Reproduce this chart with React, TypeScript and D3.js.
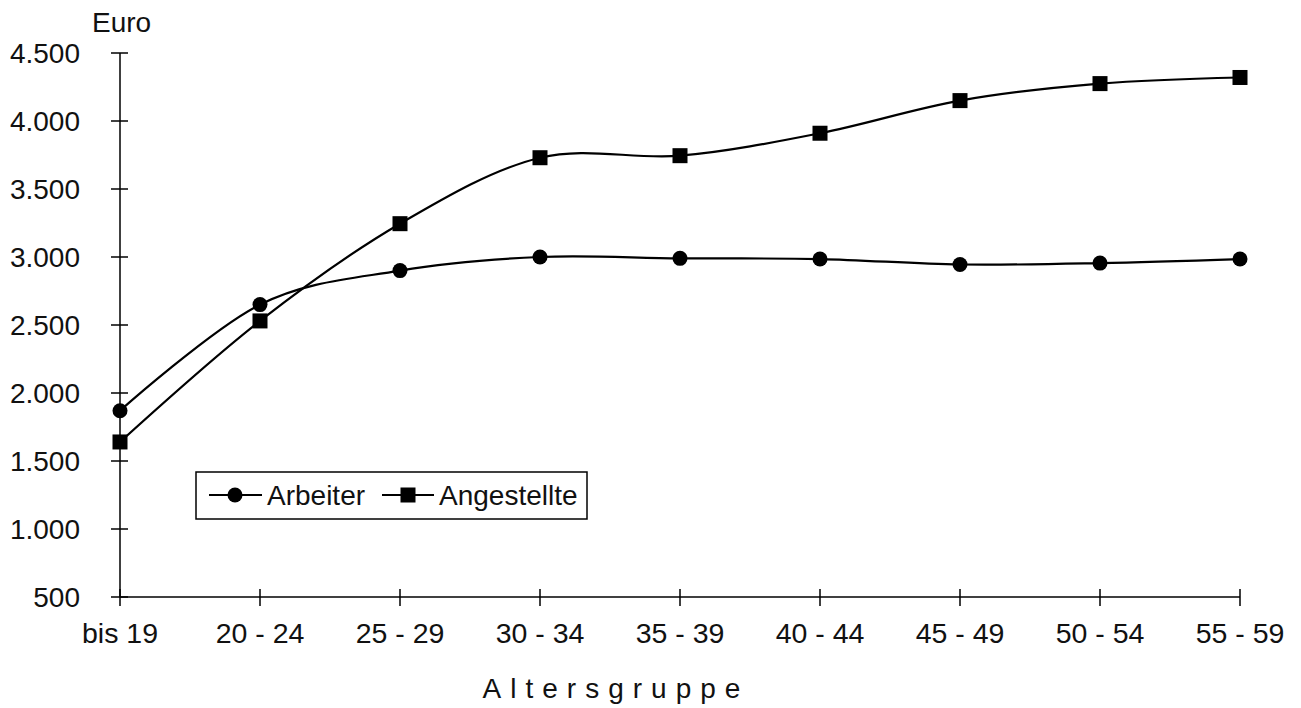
import React from "react";
import * as d3 from "d3";

const categories = ["bis 19", "20 - 24", "25 - 29", "30 - 34", "35 - 39", "40 - 44", "45 - 49", "50 - 54", "55 - 59"];
const arbeiter = [1870, 2650, 2900, 3000, 2990, 2985, 2945, 2955, 2985];
const angestellte = [1640, 2530, 3245, 3730, 3745, 3910, 4150, 4275, 4320];
const yTicks = [500, 1000, 1500, 2000, 2500, 3000, 3500, 4000, 4500];
const seriesNames = ["Arbeiter", "Angestellte"];

const W = 1301;
const H = 708;
const FONT = "'Liberation Sans', Arial, sans-serif";

const locale = d3.formatLocale({ decimal: ",", thousands: ".", grouping: [3], currency: ["", " €"] });
const fmt = locale.format(",");

export default function App() {
  const x = d3.scalePoint<string>().domain(categories).range([120, 1240]);
  const y = d3.scaleLinear().domain([500, 4500]).range([597, 53]);
  const line = d3
    .line<number>()
    .x((_, i) => x(categories[i]) as number)
    .y((d) => y(d))
    .curve(d3.curveCatmullRom.alpha(0));

  const circle = (cx: number, cy: number, key: string) => <circle key={key} cx={cx} cy={cy} r={7.5} fill="#000" />;
  const square = (cx: number, cy: number, key: string) => (
    <rect key={key} x={cx - 7.5} y={cy - 7.5} width={15} height={15} fill="#000" />
  );

  return (
    <svg
      width={W}
      height={H}
      style={{ position: "absolute", left: 0, top: 0, background: "#fff" }}
      fontFamily={FONT}
    >
      <rect x={0} y={0} width={W} height={H} fill="#fff" />
      {/* axes */}
      <line x1={120} x2={120} y1={y(4500)} y2={y(500)} stroke="#000" strokeWidth={1.5} />
      <line x1={120} x2={1240} y1={y(500)} y2={y(500)} stroke="#000" strokeWidth={1.5} />
      {yTicks.map((t) => (
        <g key={"yt" + t}>
          <line x1={111} x2={128} y1={y(t)} y2={y(t)} stroke="#000" strokeWidth={1.5} />
          <text x={80} y={y(t) + 10} textAnchor="end" fontSize={28} fill="#111">
            {fmt(t)}
          </text>
        </g>
      ))}
      {categories.map((c) => (
        <g key={"xt" + c}>
          <line x1={x(c)} x2={x(c)} y1={589} y2={606} stroke="#000" strokeWidth={1.5} />
          <text x={x(c)} y={643} textAnchor="middle" fontSize={28.5} fill="#111">
            {c}
          </text>
        </g>
      ))}
      <text x={92} y={32} fontSize={28} fill="#111">
        Euro
      </text>
      <text x={616} y={698} textAnchor="middle" fontSize={28} letterSpacing={9} fill="#111">
        Altersgruppe
      </text>

      {/* lines */}
      <path d={line(arbeiter) || ""} fill="none" stroke="#000" strokeWidth={2.2} />
      <path d={line(angestellte) || ""} fill="none" stroke="#000" strokeWidth={2.2} />
      {arbeiter.map((v, i) => circle(x(categories[i]) as number, y(v), "a" + i))}
      {angestellte.map((v, i) => square(x(categories[i]) as number, y(v), "b" + i))}

      {/* legend */}
      <rect x={196} y={472} width={391} height={47} fill="#fff" stroke="#000" strokeWidth={1.5} />
      <line x1={209} x2={262} y1={495} y2={495} stroke="#000" strokeWidth={2.2} />
      {circle(235, 495, "lc")}
      <text x={267} y={505} fontSize={28} fill="#111">
        {seriesNames[0]}
      </text>
      <line x1={382} x2={434} y1={495} y2={495} stroke="#000" strokeWidth={2.2} />
      {square(408, 495, "ls")}
      <text x={439} y={505} fontSize={28} fill="#111">
        {seriesNames[1]}
      </text>
    </svg>
  );
}
